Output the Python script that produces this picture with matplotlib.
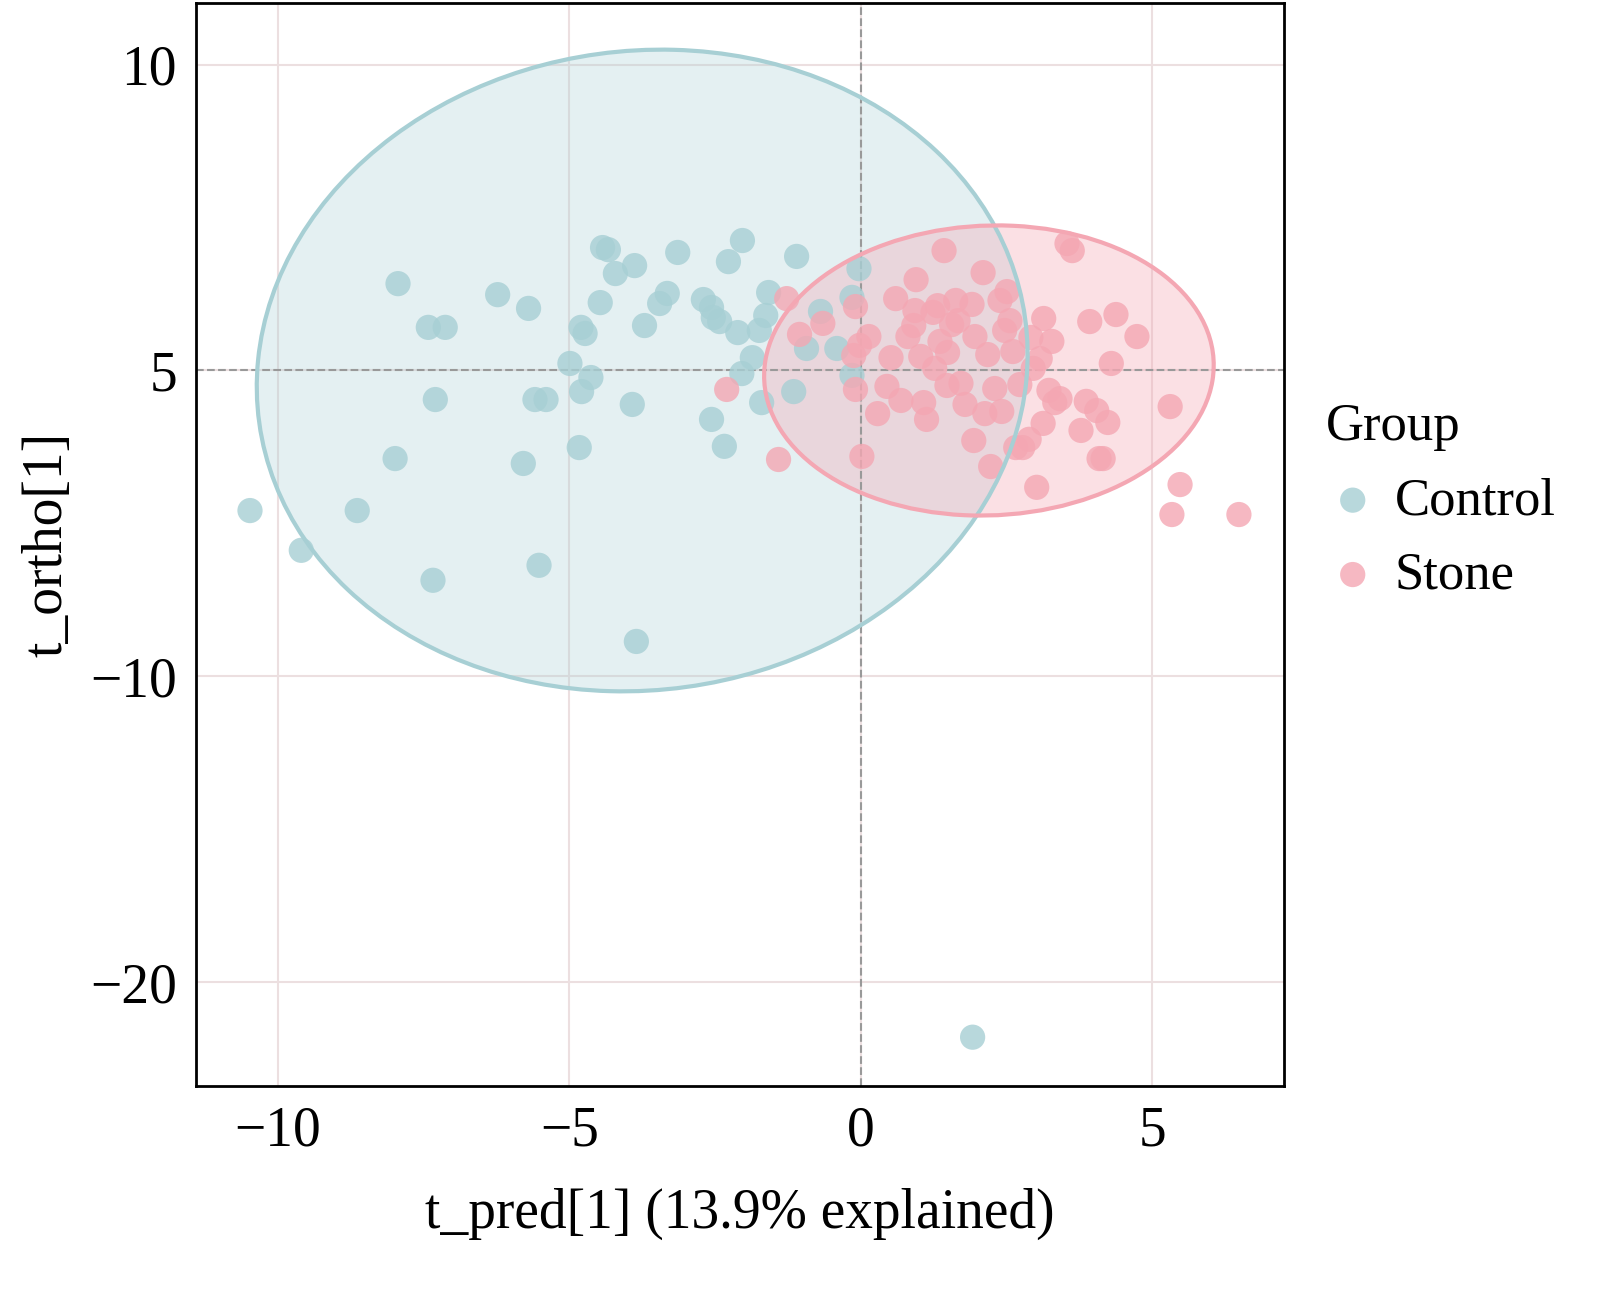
import numpy as np
import matplotlib.pyplot as plt
from matplotlib.patches import Ellipse

# Scores
control_x = [-10.48, -9.6, -8.64, -7.94, -7.42, -7.13, -7.3, -7.34, -7.99, -6.23, -5.70, -5.79,
             -5.59, -5.40, -5.52, -4.99, -4.80, -4.73, -4.63, -4.79, -4.83, -4.47, -4.43, -4.33,
             -4.21, -3.88, -3.92, -3.71, -3.85, -3.45, -3.32, -3.14, -2.70, -2.56, -2.53, -2.42,
             -2.56, -2.34, -2.27, -2.11, -2.03, -2.04, -1.86, -1.70, -1.74, -1.63, -1.58, -1.10,
             -1.15, -0.93, -0.69, -0.41, -0.15, -0.03, -0.15, 1.92]
control_y = [-4.58, -5.88, -4.58, 2.84, 1.41, 1.41, -0.95, -6.86, -2.88, 2.48, 2.03, -3.04,
             -0.95, -0.95, -6.37, 0.23, 1.41, 1.21, -0.23, -0.69, -2.52, 2.22, 4.02, 3.95,
             3.17, 3.43, -1.11, 1.47, -8.86, 2.19, 2.52, 3.86, 2.32, 2.06, 1.73, 1.60,
             -1.60, -2.48, 3.56, 1.24, 4.25, -0.10, 0.42, -1.05, 1.31, 1.80, 2.55, 3.73,
             -0.69, 0.72, 1.93, 0.72, 2.39, 3.33, -0.16, -21.8]
stone_px = [(724,389),(776,459),(784,298),(797,334),(820,323),(853,306),(857,345),(851,355),(853,389),(866,336),
            (859,456),(875,413),(884,386),(888,357),(893,298),(898,400),(905,336),(913,279),(912,310),(911,325),
            (918,356),(921,402),(924,419),(930,312),(932,368),(935,305),(937,341),(941,250),(945,352),(949,324),
            (953,300),(955,320),(958,383),(944,385),(962,404),(969,304),(972,336),(971,440),(980,272),(985,354),
            (982,413),(988,466),(992,388),(997,300),(999,411),(1002,330),(1004,291),(1007,320),(1010,351),(1013,447),
            (1017,384),(1020,447),(1026,439),(1028,337),(1030,368),(1034,487),(1037,358),(1041,318),(1040,423),(1046,390),
            (1049,341),(1052,402),(1057,398),(1064,243),(1069,250),(1078,430),(1083,401),(1087,321),(1094,410),(1096,458),
            (1100,458),(1105,422),(1108,363),(1113,314),(1134,336),(1167,406),(1177,484),(1169,514),(1236,514)]
stone_x = [round((p[0] - 858) / 58.2, 2) for p in stone_px]
stone_y = [round((370 - p[1]) / 30.6, 2) for p in stone_px]

ctrl_col = '#a7cfd4'
stone_col = '#f4a7b3'

plt.rcParams['font.family'] = ['Liberation Serif', 'DejaVu Serif']
fig, ax = plt.subplots(figsize=(16.23, 12.93), dpi=100)
plt.subplots_adjust(left=0.121, right=0.791, top=0.998, bottom=0.16)

ax.add_patch(Ellipse((-3.75, 0.0), 13.2, 21.0, angle=-3, facecolor=ctrl_col, alpha=0.3,
                     edgecolor='none', zorder=1))
ax.add_patch(Ellipse((-3.75, 0.0), 13.2, 21.0, angle=-3, facecolor='none',
                     edgecolor=ctrl_col, lw=3, zorder=4))
ax.add_patch(Ellipse((2.2, 0.0), 7.7, 9.5, angle=-5, facecolor=stone_col, alpha=0.35,
                     edgecolor='none', zorder=1))
ax.add_patch(Ellipse((2.2, 0.0), 7.7, 9.5, angle=-5, facecolor='none',
                     edgecolor=stone_col, lw=3, zorder=4))

ax.scatter(control_x, control_y, s=330, color=ctrl_col, alpha=0.8, edgecolor='none',
           label='Control', zorder=3)
ax.scatter(stone_x, stone_y, s=330, color=stone_col, alpha=0.8, edgecolor='none',
           label='Stone', zorder=3)

ax.axvline(0, color='#999999', ls='--', lw=1.5, zorder=2)
ax.axhline(0, color='#999999', ls='--', lw=1.5, zorder=2)

ax.set_xlim(-11.4, 7.26)
ax.set_ylim(-23.4, 12.03)
ax.set_xticks([-10, -5, 0, 5])
ax.set_xticklabels(['\u221210', '\u22125', '0', '5'])
ax.set_yticks([10, 0, -10, -20])
ax.set_yticklabels(['10', '5', '\u221210', '\u221220'])
ax.grid(color='#ecdfe0', lw=1.5, zorder=0)
ax.set_axisbelow(True)
for s in ax.spines.values():
    s.set_linewidth(2)
ax.tick_params(labelsize=40, length=0, pad=14)
ax.set_xlabel('t_pred[1] (13.9% explained)', fontsize=40, labelpad=22)
ax.set_ylabel('t_ortho[1]', fontsize=40, labelpad=12)

leg = ax.legend(title='Group', loc='center left', bbox_to_anchor=(1.01, 0.54),
                frameon=False, fontsize=38, title_fontsize=38, markerscale=1,
                handlelength=1.0, handletextpad=0.3, borderaxespad=0.2,
                alignment='left')

fig.savefig('out.png')
